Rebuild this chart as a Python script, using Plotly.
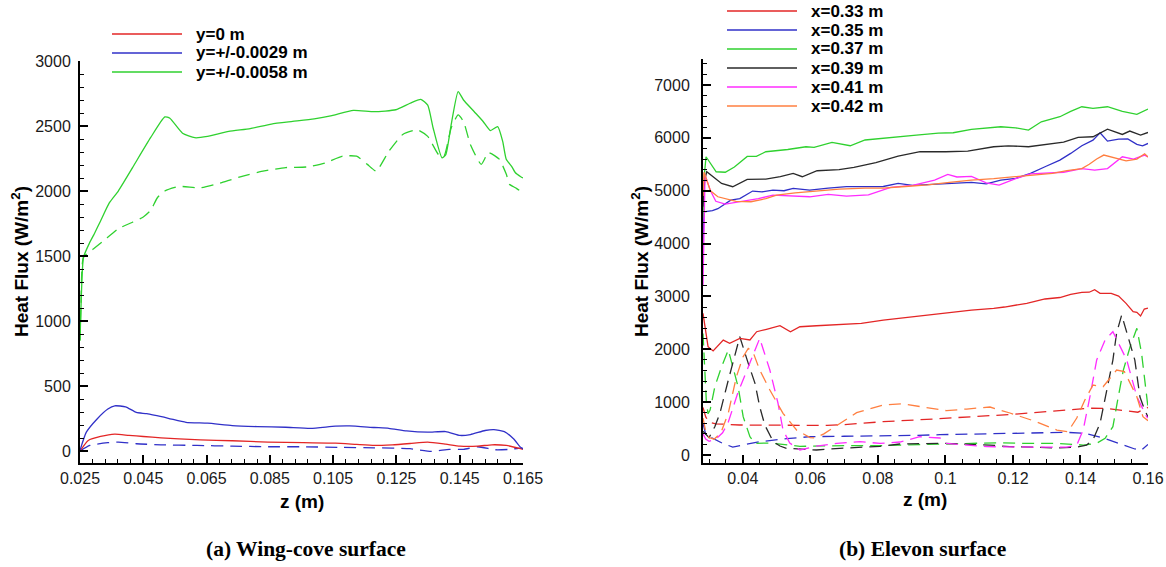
import plotly.graph_objects as go

# ---------------- DATA: (a) Wing-cove surface ----------------
a_green_solid_z = [0.0250, 0.0253, 0.0261, 0.0280, 0.0295, 0.0315, 0.0343, 0.0371, 0.0416, 0.0473, 0.0518,
                   0.0534, 0.0574, 0.0613, 0.0653, 0.0720, 0.0788, 0.0855, 0.0922, 0.0990, 0.1046, 0.1114,
                   0.1180, 0.1248, 0.1293, 0.1327, 0.1349, 0.1366, 0.1394, 0.1406, 0.1423, 0.1445, 0.1462,
                   0.1496, 0.1524, 0.1547, 0.1570, 0.1586, 0.1597, 0.1614, 0.1626, 0.1643, 0.1650]
a_green_solid_v = [850, 1100, 1490, 1600, 1670, 1770, 1910, 2000, 2180, 2410, 2570,
                   2560, 2445, 2410, 2420, 2458, 2480, 2515, 2535, 2555, 2580, 2620,
                   2610, 2625, 2675, 2705, 2660, 2485, 2255, 2280, 2510, 2765, 2700,
                   2610, 2535, 2465, 2495, 2380, 2245, 2190, 2140, 2110, 2100]

a_green_dash_z = [0.0250, 0.0253, 0.0261, 0.0293, 0.0326, 0.0371, 0.0416, 0.0450, 0.0473, 0.0495, 0.0518,
                  0.0563, 0.0630, 0.0698, 0.0765, 0.0832, 0.0900, 0.0967, 0.1024, 0.1080, 0.1124, 0.1158,
                  0.1186, 0.1226, 0.1270, 0.1316, 0.1349, 0.1383, 0.1400, 0.1423, 0.1445, 0.1462, 0.1484,
                  0.1518, 0.1541, 0.1575, 0.1597, 0.1608, 0.1626, 0.1643, 0.1650]
a_green_dash_v = [850, 1100, 1490, 1555, 1620, 1710, 1760, 1800, 1850, 1950, 2000,
                  2035, 2025, 2065, 2115, 2155, 2180, 2185, 2215, 2268, 2268, 2205,
                  2153, 2305, 2435, 2470, 2420, 2280, 2265, 2485, 2585, 2535, 2355,
                  2205, 2295, 2245, 2130, 2050, 2025, 2000, 2025]

a_blue_solid_z = [0.0250, 0.0270, 0.0304, 0.0338, 0.0360, 0.0394, 0.0428, 0.0461, 0.0529, 0.0585, 0.0653,
                  0.0731, 0.0810, 0.0900, 0.0979, 0.1057, 0.1102, 0.1180, 0.1226, 0.1282, 0.1349, 0.1406,
                  0.1451, 0.1484, 0.1530, 0.1558, 0.1591, 0.1620, 0.1642, 0.1650]
a_blue_solid_v = [5, 145, 247, 323, 348, 340, 297, 287, 252, 221, 214,
                  196, 188, 183, 175, 191, 193, 181, 175, 155, 145, 150,
                  120, 127, 158, 165, 150, 94, 30, 15]

a_blue_dash_z = [0.0250, 0.0281, 0.0338, 0.0371, 0.0428, 0.0506, 0.0619, 0.0731, 0.0844, 0.0956, 0.1069,
                 0.1180, 0.1293, 0.1360, 0.1417, 0.1462, 0.1507, 0.1563, 0.1608, 0.1642, 0.1650]
a_blue_dash_v = [0, 43, 64, 69, 56, 48, 43, 38, 33, 33, 28,
                 25, 18, -3, 13, 13, 33, 10, 13, 23, 20]

a_red_solid_z = [0.0250, 0.0276, 0.0315, 0.0360, 0.0405, 0.0450, 0.0506, 0.0563, 0.0630, 0.0731, 0.0844,
                 0.0956, 0.1057, 0.1124, 0.1180, 0.1237, 0.1293, 0.1349, 0.1406, 0.1451, 0.1507, 0.1552,
                 0.1597, 0.1642, 0.1650]
a_red_solid_v = [0, 81, 112, 130, 120, 112, 102, 94, 86, 79, 69,
                 64, 61, 51, 43, 48, 58, 69, 53, 38, 38, 48,
                 43, 18, 12]

# ---------------- DATA: (b) Elevon surface ----------------
b_red_solid_z = [0.0282, 0.0297, 0.0312, 0.0342, 0.0361, 0.0391, 0.0421, 0.0441, 0.0470, 0.0510, 0.0541,
                 0.0569, 0.0618, 0.0685, 0.0751, 0.0816, 0.0881, 0.0947, 0.1012, 0.1077, 0.1143, 0.1175,
                 0.1241, 0.1295, 0.1339, 0.1371, 0.1404, 0.1426, 0.1442, 0.1458, 0.1491, 0.1513, 0.1535,
                 0.1556, 0.1567, 0.1578, 0.1589, 0.1600]
b_red_solid_v = [2680, 2050, 1970, 2175, 2113, 2207, 2176, 2333, 2378, 2446, 2333,
                 2427, 2446, 2472, 2490, 2554, 2600, 2648, 2699, 2740, 2775, 2800,
                 2870, 2952, 2980, 3039, 3077, 3080, 3128, 3060, 3060, 3008, 2870,
                 2712, 2700, 2630, 2762, 2780]

b_blue_solid_z = [0.0282, 0.0285, 0.0310, 0.0326, 0.0364, 0.0391, 0.0429, 0.0457, 0.0489, 0.0522, 0.0549,
                  0.0598, 0.0653, 0.0707, 0.0816, 0.0860, 0.0903, 0.0979, 0.1034, 0.1077, 0.1121, 0.1164,
                  0.1208, 0.1252, 0.1295, 0.1339, 0.1371, 0.1404, 0.1437, 0.1458, 0.1480, 0.1513, 0.1540,
                  0.1567, 0.1584, 0.1600]
b_blue_solid_v = [3900, 4600, 4622, 4660, 4823, 4850, 4994, 4980, 5010, 5000, 5044,
                  5013, 5050, 5076, 5080, 5139, 5100, 5130, 5150, 5160, 5130, 5200,
                  5233, 5328, 5454, 5580, 5706, 5851, 5958, 6097, 5939, 5977, 5980,
                  5877, 5850, 5895]

b_green_solid_z = [0.0282, 0.0286, 0.0291, 0.0321, 0.0348, 0.0375, 0.0413, 0.0440, 0.0468, 0.0533, 0.0587,
                   0.0611, 0.0664, 0.0718, 0.0762, 0.0805, 0.0849, 0.0914, 0.0979, 0.1023, 0.1077, 0.1121,
                   0.1164, 0.1208, 0.1246, 0.1284, 0.1339, 0.1371, 0.1404, 0.1437, 0.1480, 0.1524, 0.1567,
                   0.1600]
b_green_solid_v = [4500, 5300, 5643, 5359, 5350, 5450, 5650, 5650, 5738, 5780, 5832,
                   5820, 5914, 5851, 5960, 5990, 6010, 6053, 6090, 6097, 6160, 6190,
                   6211, 6190, 6148, 6305, 6400, 6500, 6589, 6557, 6589, 6500, 6444,
                   6545]

b_black_solid_z = [0.0282, 0.0287, 0.0293, 0.0315, 0.0337, 0.0370, 0.0413, 0.0468, 0.0511, 0.0549, 0.0576,
                   0.0620, 0.0685, 0.0729, 0.0794, 0.0860, 0.0925, 0.1001, 0.1066, 0.1143, 0.1186, 0.1246,
                   0.1306, 0.1350, 0.1393, 0.1437, 0.1480, 0.1502, 0.1524, 0.1546, 0.1578, 0.1600]
b_black_solid_v = [4700, 5200, 5359, 5250, 5139, 5076, 5214, 5221, 5265, 5328, 5265,
                   5378, 5400, 5441, 5530, 5656, 5738, 5738, 5750, 5832, 5850, 5832,
                   5877, 5920, 6009, 6021, 6166, 6110, 6065, 6129, 6053, 6103]

b_magenta_solid_z = [0.0282, 0.0285, 0.0288, 0.0304, 0.0320, 0.0348, 0.0402, 0.0446, 0.0489, 0.0533, 0.0598,
                     0.0653, 0.0707, 0.0772, 0.0838, 0.0903, 0.0968, 0.1007, 0.1034, 0.1077, 0.1121, 0.1159,
                     0.1208, 0.1252, 0.1295, 0.1350, 0.1404, 0.1442, 0.1480, 0.1524, 0.1557, 0.1590, 0.1600]
b_magenta_solid_v = [3200, 4600, 5300, 5000, 4800, 4748, 4804, 4850, 4918, 4910, 4886,
                     4930, 4900, 4920, 5063, 5100, 5202, 5309, 5260, 5270, 5150, 5107,
                     5230, 5320, 5330, 5350, 5420, 5391, 5420, 5643, 5600, 5675, 5640]

b_orange_solid_z = [0.0282, 0.0285, 0.0304, 0.0326, 0.0380, 0.0424, 0.0468, 0.0500, 0.0555, 0.0620, 0.0685,
                    0.0762, 0.0816, 0.0881, 0.0947, 0.1012, 0.1077, 0.1143, 0.1208, 0.1252, 0.1317, 0.1360,
                    0.1404, 0.1426, 0.1448, 0.1469, 0.1491, 0.1535, 0.1567, 0.1590, 0.1600]
b_orange_solid_v = [4900, 5350, 5000, 4886, 4800, 4792, 4850, 4918, 4960, 4990, 5031,
                    5050, 5050, 5080, 5110, 5160, 5202, 5230, 5270, 5300, 5330, 5380,
                    5420, 5500, 5600, 5675, 5640, 5567, 5600, 5700, 5640]

b_red_dash_z = [0.0282, 0.0290, 0.0300, 0.0320, 0.0340, 0.0390, 0.0470, 0.0589, 0.0650, 0.0700, 0.0815,
                0.0963, 0.1050, 0.1152, 0.1200, 0.1300, 0.1428, 0.1480, 0.1530, 0.1570, 0.1600]
b_red_dash_v = [900, 720, 620, 590, 585, 568, 565, 555, 560, 575, 631,
                681, 710, 745, 770, 820, 885, 880, 845, 810, 900]

b_blue_dash_z = [0.0282, 0.0292, 0.0310, 0.0340, 0.0370, 0.0411, 0.0450, 0.0530, 0.0599, 0.0700, 0.0796,
                 0.0914, 0.0984, 0.1112, 0.1170, 0.1260, 0.1360, 0.1413, 0.1468, 0.1527, 0.1561, 0.1580,
                 0.1600]
b_blue_dash_v = [600, 340, 320, 221, 151, 208, 252, 310, 347, 355, 360,
                 372, 385, 397, 410, 423, 429, 410, 322, 189, 114, 90,
                 200]

b_green_dash_z = [0.0282, 0.0287, 0.0292, 0.0297, 0.0303, 0.0317, 0.0337, 0.0357, 0.0371, 0.0386, 0.0401,
                  0.0421, 0.0436, 0.0480, 0.0569, 0.0618, 0.0700, 0.0796, 0.0865, 0.0993, 0.1043, 0.1112,
                  0.1162, 0.1231, 0.1330, 0.1408, 0.1448, 0.1473, 0.1496, 0.1512, 0.1527, 0.1547, 0.1567,
                  0.1581, 0.1591, 0.1598, 0.1600]
b_green_dash_v = [2300, 1500, 1000, 780, 850, 1292, 1671, 1987, 1671, 1292, 725,
                  347, 221, 227, 164, 170, 177, 177, 189, 208, 221, 221,
                  233, 221, 221, 189, 221, 316, 536, 1103, 1608, 2049, 2397,
                  1924, 1419, 978, 900]

b_black_dash_z = [0.0282, 0.0300, 0.0317, 0.0332, 0.0357, 0.0372, 0.0391, 0.0416, 0.0436, 0.0450, 0.0465,
                  0.0490, 0.0510, 0.0529, 0.0618, 0.0687, 0.0747, 0.0806, 0.0865, 0.0933, 0.0993, 0.1132,
                  0.1190, 0.1260, 0.1330, 0.1390, 0.1418, 0.1437, 0.1458, 0.1478, 0.1496, 0.1507, 0.1522,
                  0.1561, 0.1576, 0.1590, 0.1600]
b_black_dash_v = [450, 330, 536, 789, 1419, 1797, 2238, 1734, 1356, 914, 568,
                  252, 170, 127, 95, 127, 140, 164, 208, 221, 221, 189,
                  158, 151, 132, 151, 189, 284, 600, 1230, 1797, 2308, 2649,
                  1797, 1103, 852, 720]

b_magenta_dash_z = [0.0282, 0.0290, 0.0300, 0.0320, 0.0340, 0.0356, 0.0385, 0.0421, 0.0450, 0.0480, 0.0504,
                    0.0519, 0.0539, 0.0569, 0.0618, 0.0678, 0.0747, 0.0806, 0.0865, 0.0924, 0.0984, 0.1003,
                    0.1063, 0.1122, 0.1260, 0.1360, 0.1389, 0.1408, 0.1428, 0.1448, 0.1473, 0.1496, 0.1537,
                    0.1567, 0.1596, 0.1600]
b_magenta_dash_v = [400, 300, 260, 300, 420, 605, 1173, 1740, 2207, 1608, 984,
                    473, 227, 95, 170, 221, 252, 221, 246, 346, 322, 221,
                    189, 158, 151, 151, 189, 473, 1103, 1797, 2176, 2333, 1797,
                    1103, 725, 700]

b_orange_dash_z = [0.0282, 0.0290, 0.0300, 0.0315, 0.0335, 0.0357, 0.0381, 0.0400, 0.0416, 0.0430, 0.0450,
                   0.0480, 0.0519, 0.0559, 0.0599, 0.0613, 0.0640, 0.0673, 0.0737, 0.0815, 0.0874, 0.0944,
                   0.1003, 0.1063, 0.1132, 0.1191, 0.1260, 0.1330, 0.1363, 0.1389, 0.1413, 0.1437, 0.1467,
                   0.1507, 0.1530, 0.1567, 0.1585, 0.1600]
b_orange_dash_v = [700, 450, 330, 300, 420, 795, 1482, 1850, 2018, 1950, 1608,
                   1230, 789, 473, 330, 322, 400, 536, 801, 946, 971, 896,
                   839, 870, 908, 795, 650, 473, 441, 700, 1040, 1324, 1292,
                   1608, 1580, 1103, 725, 650]

# ---------------- labels ----------------
a_legend_labels = ["y=0 m", "y=+/-0.0029 m", "y=+/-0.0058 m"]
b_legend_labels = ["x=0.33 m", "x=0.35 m", "x=0.37 m", "x=0.39 m", "x=0.41 m", "x=0.42 m"]
a_xtick_vals = [0.025, 0.045, 0.065, 0.085, 0.105, 0.125, 0.145, 0.165]
a_xtick_text = ["0.025", "0.045", "0.065", "0.085", "0.105", "0.125", "0.145", "0.165"]
a_ytick_vals = [0, 500, 1000, 1500, 2000, 2500, 3000]
b_xtick_vals = [0.04, 0.06, 0.08, 0.10, 0.12, 0.14, 0.16]
b_xtick_text = ["0.04", "0.06", "0.08", "0.1", "0.12", "0.14", "0.16"]
b_ytick_vals = [0, 1000, 2000, 3000, 4000, 5000, 6000, 7000]
captions = ["(a) Wing-cove surface", "(b) Elevon surface"]

# ---------------- style ----------------
RED = "#e32626"
BLUE = "#3030c8"
GREEN = "#2fd12f"
BLACK = "#2a2a2a"
MAGENTA = "#ff2cff"
ORANGE = "#ff7f40"
LW = 1.3
DASH = "12px,7px"
W, H = 1166, 567

fig = go.Figure()


def add(z, v, color, dashed, xa, ya, smooth=False):
    line = dict(color=color, width=LW, dash=DASH if dashed else "solid")
    if smooth:
        line.update(shape="spline", smoothing=0.5)
    fig.add_trace(go.Scatter(
        x=z, y=v, mode="lines", xaxis=xa, yaxis=ya, showlegend=False, hoverinfo="skip",
        line=line))


# panel (a)
add(a_green_dash_z, a_green_dash_v, GREEN, True, "x", "y", True)
add(a_blue_dash_z, a_blue_dash_v, BLUE, True, "x", "y", True)
add(a_red_solid_z, a_red_solid_v, RED, False, "x", "y", True)
add(a_blue_solid_z, a_blue_solid_v, BLUE, False, "x", "y", True)
add(a_green_solid_z, a_green_solid_v, GREEN, False, "x", "y", True)

# panel (b)
add(b_red_dash_z, b_red_dash_v, RED, True, "x2", "y2")
add(b_blue_dash_z, b_blue_dash_v, BLUE, True, "x2", "y2")
add(b_green_dash_z, b_green_dash_v, GREEN, True, "x2", "y2")
add(b_black_dash_z, b_black_dash_v, BLACK, True, "x2", "y2")
add(b_magenta_dash_z, b_magenta_dash_v, MAGENTA, True, "x2", "y2")
add(b_orange_dash_z, b_orange_dash_v, ORANGE, True, "x2", "y2")
add(b_red_solid_z, b_red_solid_v, RED, False, "x2", "y2")
add(b_blue_solid_z, b_blue_solid_v, BLUE, False, "x2", "y2")
add(b_green_solid_z, b_green_solid_v, GREEN, False, "x2", "y2")
add(b_black_solid_z, b_black_solid_v, BLACK, False, "x2", "y2")
add(b_magenta_solid_z, b_magenta_solid_v, MAGENTA, False, "x2", "y2")
add(b_orange_solid_z, b_orange_solid_v, ORANGE, False, "x2", "y2")

TICKFONT = dict(family="Liberation Sans, Arial, sans-serif", size=16, color="#1a1a1a")


def axis(**kw):
    base = dict(showline=True, linecolor="black", linewidth=2, ticks="inside", ticklen=8,
                tickwidth=2, tickcolor="black", showgrid=False, zeroline=False, mirror=False,
                tickfont=TICKFONT, fixedrange=True, automargin=False)
    base.update(kw)
    return base


def px_x(p):
    return p / W


def px_y(p):
    return 1 - p / H


fig.update_layout(
    width=W, height=H, margin=dict(l=0, r=0, t=0, b=0, pad=0),
    paper_bgcolor="white", plot_bgcolor="white", showlegend=False,
    xaxis=axis(domain=[px_x(80), px_x(523)], range=[0.025, 0.165], anchor="y",
               tickvals=a_xtick_vals, ticktext=a_xtick_text,
               minor=dict(ticks="inside", ticklen=4, tickwidth=1, tickcolor="black",
                          tick0=0.025, dtick=0.004)),
    yaxis=axis(domain=[px_y(463), px_y(61)], range=[-92, 3000], anchor="x",
               tickvals=a_ytick_vals, ticklabelstandoff=4,
               minor=dict(ticks="inside", ticklen=4, tickwidth=1, tickcolor="black",
                          tick0=0, dtick=100)),
    xaxis2=axis(domain=[px_x(703), px_x(1148)], range=[0.0282, 0.16], anchor="y2",
                tickvals=b_xtick_vals, ticktext=b_xtick_text,
                minor=dict(ticks="inside", ticklen=4, tickwidth=1, tickcolor="black",
                           tick0=0, dtick=0.005)),
    yaxis2=axis(domain=[px_y(463), px_y(58.6)], range=[-151, 7500], anchor="x2",
                tickvals=b_ytick_vals, ticklabelstandoff=8,
                minor=dict(ticks="inside", ticklen=4, tickwidth=1, tickcolor="black",
                           tick0=0, dtick=200)),
)

TITLEFONT = dict(family="Liberation Sans, Arial, sans-serif", size=19, color="black")
ann = []
shapes = []
# axis titles
for xc, yc in [(20, 262), (640, 262)]:
    ann.append(dict(xref="paper", yref="paper", x=px_x(xc), y=px_y(yc), showarrow=False,
                    text="<b>Heat Flux (W/m<sup>2</sup>)</b>", textangle=-90, font=TITLEFONT,
                    xanchor="center", yanchor="middle"))
for xc, yc in [(302, 501), (925, 499)]:
    ann.append(dict(xref="paper", yref="paper", x=px_x(xc), y=px_y(yc), showarrow=False,
                    text="<b>z (m)</b>", font=TITLEFONT, xanchor="center", yanchor="middle"))
# captions
for xc, txt in zip([306, 922], captions):
    ann.append(dict(xref="paper", yref="paper", x=px_x(xc), y=px_y(549), showarrow=False,
                    text="<b>" + txt + "</b>",
                    font=dict(family="Liberation Serif, Times New Roman, serif", size=21.5, color="black"),
                    xanchor="center", yanchor="middle"))

LEGFONT = dict(family="Liberation Sans, Arial, sans-serif", size=17, color="black")
# legend (a)
for i, (lab, col) in enumerate(zip(a_legend_labels, [RED, BLUE, GREEN])):
    yy = 34 + 19 * i
    shapes.append(dict(type="line", xref="paper", yref="paper", x0=px_x(112), x1=px_x(182),
                       y0=px_y(yy), y1=px_y(yy), line=dict(color=col, width=LW)))
    ann.append(dict(xref="paper", yref="paper", x=px_x(194), y=px_y(yy), showarrow=False,
                    text="<b>" + lab + "</b>", font=LEGFONT, xanchor="left", yanchor="middle"))
# legend (b)
for i, (lab, col) in enumerate(zip(b_legend_labels, [RED, BLUE, GREEN, BLACK, MAGENTA, ORANGE])):
    yy = 11 + 19 * i
    shapes.append(dict(type="line", xref="paper", yref="paper", x0=px_x(727), x1=px_x(797),
                       y0=px_y(yy), y1=px_y(yy), line=dict(color=col, width=LW)))
    ann.append(dict(xref="paper", yref="paper", x=px_x(809), y=px_y(yy), showarrow=False,
                    text="<b>" + lab + "</b>", font=LEGFONT, xanchor="left", yanchor="middle"))

fig.update_layout(annotations=ann, shapes=shapes)
fig.write_html("out.html")
